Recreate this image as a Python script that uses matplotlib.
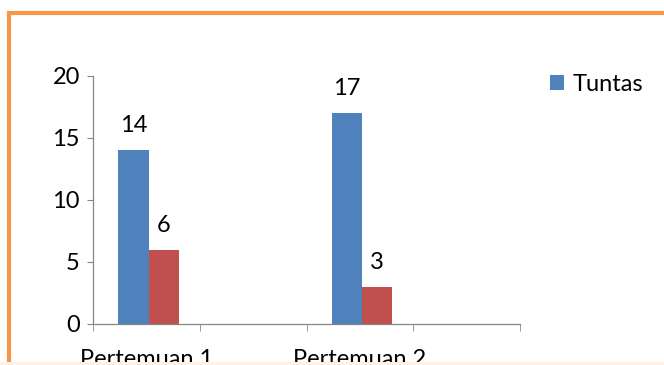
import numpy as np
import matplotlib
matplotlib.use("Agg")
import matplotlib.pyplot as plt
from matplotlib.patches import Rectangle

plt.rcParams['font.family'] = ['Lato', 'DejaVu Sans']

categories = ["Pertemuan 1", "", "Pertemuan 2", ""]
tuntas = [14, np.nan, 17, np.nan]
tidak_tuntas = [6, np.nan, 3, np.nan]
yticks = [0, 5, 10, 15, 20]

W, H = 664, 365
fs = 17
fig = plt.figure(figsize=(W / 100, H / 100), dpi=100)
ax = fig.add_axes([93 / W, (H - 324) / H, (520 - 93) / W, (324 - 76) / H])

x = np.arange(len(categories))
bw = 0.285
b1 = ax.bar(x - bw / 2 + 0.02, tuntas, bw, color='#4F81BD', label='Tuntas')
b2 = ax.bar(x + bw / 2 + 0.02, tidak_tuntas, bw, color='#C0504D')

for bars, vals in ((b1, tuntas), (b2, tidak_tuntas)):
    for rect, v in zip(bars, vals):
        if np.isnan(v):
            continue
        ax.annotate(str(int(v)), (rect.get_x() + rect.get_width() / 2, v),
                    xytext=(0, 18), textcoords='offset pixels',
                    ha='center', va='baseline', fontsize=fs)

ax.set_xlim(-0.5, len(categories) - 0.5)
ax.set_ylim(0, 20)
ax.set_yticks(yticks)
ax.set_xticks(x)
ax.set_xticklabels(categories)
ax.set_xticks(np.arange(len(categories) + 1) - 0.5, minor=True)
ax.tick_params(axis='x', which='major', length=0, pad=18, labelsize=fs)
ax.tick_params(axis='x', which='minor', length=5, color='#868686', direction='out')
ax.tick_params(axis='y', length=4.5, color='#868686', labelsize=fs, pad=5)
for s in ('top', 'right'):
    ax.spines[s].set_visible(False)
for s in ('left', 'bottom'):
    ax.spines[s].set_color('#868686')
    ax.spines[s].set_linewidth(0.9)

ax.legend(handles=[b1], loc='upper left', bbox_to_anchor=(550 / W, (H - 74) / H),
          bbox_transform=fig.transFigure, frameon=False, fontsize=fs,
          handlelength=0.6, handleheight=0.6, handletextpad=0.35, borderaxespad=0,
          borderpad=0)

# orange chart border, cut off at right and bottom
fig.patches.append(Rectangle((8.5 / W, -0.05), 1.1, (H - 13) / H + 0.05,
                             transform=fig.transFigure, fill=False,
                             edgecolor='#F79646', linewidth=3))
# faint strip where the picture was cropped
fig.patches.append(Rectangle((0, 0), 1, 3 / H, transform=fig.transFigure,
                             facecolor='#FDF1E8', edgecolor='none', zorder=10))

fig.savefig("out.png", dpi=100)
